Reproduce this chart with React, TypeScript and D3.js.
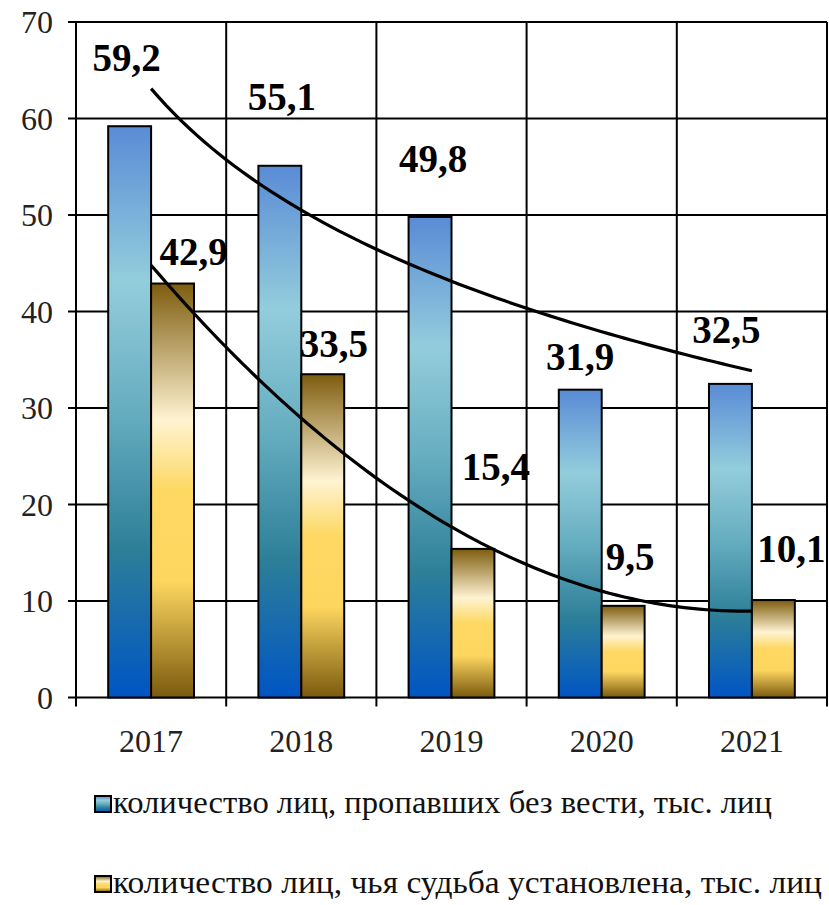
import React, { useEffect } from "react";
import * as d3 from "d3";

const W = 829;
const H = 905;

// data
const years = ["2017", "2018", "2019", "2020", "2021"];
const missing = [59.2, 55.1, 49.8, 31.9, 32.5];
const found = [42.9, 33.5, 15.4, 9.5, 10.1];
const yTicks = [0, 10, 20, 30, 40, 50, 60, 70];
const legendLabels = [
  "количество лиц, пропавших без вести, тыс. лиц",
  "количество лиц, чья судьба установлена, тыс. лиц",
];

// manual label nudges (relative to bar top centre), like in the original
const missingLabelNudge = [[-3, -55], [2, -56], [3, -45], [0, -20], [-4, -41]];
const foundLabelNudge = [[21, -19], [11, -17], [23, -69], [7, -36], [18, -38]];
const legendWidths = [659, 709];

const fmt = (v: number) => v.toFixed(1).replace(".", ",");

// log trendline y = a + b ln(x), x = 1..n (as Excel does)
function logFit(ys: number[]) {
  const xs = ys.map((_, i) => Math.log(i + 1));
  const mx = d3.mean(xs)!;
  const my = d3.mean(ys)!;
  let sxy = 0, sxx = 0;
  xs.forEach((x, i) => { sxy += (x - mx) * (ys[i] - my); sxx += (x - mx) ** 2; });
  const b = sxy / sxx;
  const a = my - b * mx;
  return (t: number) => a + b * Math.log(t);
}

// 2nd order polynomial trendline (orthogonal polynomials, equally spaced x)
function polyFit(ys: number[]) {
  const xs = ys.map((_, i) => i + 1);
  const mx = d3.mean(xs)!;
  const u = xs.map((x) => x - mx);
  const qm = d3.mean(u.map((w) => w * w))!;
  const q = u.map((v) => v * v - qm);
  const my = d3.mean(ys)!;
  const b = d3.sum(u.map((v, i) => v * ys[i])) / d3.sum(u.map((v) => v * v));
  const c = d3.sum(q.map((v, i) => v * ys[i])) / d3.sum(q.map((v) => v * v));
  return (t: number) => my + b * (t - mx) + c * ((t - mx) ** 2 - qm);
}

export default function App() {
  useEffect(() => {
    document.body.style.margin = "0";
    document.body.style.fontFamily = '"Liberation Serif"';
  }, []);

  const left = 76;
  const right = 827;
  const top = 22;
  const bottom = 697.5;

  const x = d3.scaleBand<string>().domain(years).range([left, right]);
  const step = x.bandwidth();
  const barW = step / 3.5;
  const y = d3.scaleLinear().domain([0, 70]).range([bottom, top]);

  const centre = (t: number) => left + (t - 1) * step + step / 2;
  const ts = d3.range(1, 5.0001, 0.05);
  const upper = logFit(missing);
  const lower = polyFit(found);
  const trend = (f: (t: number) => number) =>
    d3.line<number>().x((t) => centre(t)).y((t) => y(f(t)))(ts) || "";

  return (
    <svg width={W} height={H} style={{ position: "absolute", left: 0, top: 0 }}>
      {/* texts first */}
      {yTicks.map((t) => (
        <text key={"yl" + t} x={53} y={y(t) + 11} textAnchor="end" fontSize={32} fill="#222">
          {String(t)}
        </text>
      ))}
      {years.map((yr) => (
        <text key={"xl" + yr} x={x(yr)! + step / 2} y={752} textAnchor="middle" fontSize={32} fill="#222">
          {yr}
        </text>
      ))}
      {legendLabels.map((lab, i) => (
        <text key={"lt" + i} x={113} y={813 + i * 80} fontSize={32} fill="#111"
          textLength={legendWidths[i]} lengthAdjust="spacingAndGlyphs">
          {lab}
        </text>
      ))}

      <defs>
        <linearGradient id="gBlue" x1="0" y1="0" x2="0" y2="1">
          <stop offset="0" stopColor="#5a8bd6" />
          <stop offset="0.27" stopColor="#93cddc" />
          <stop offset="0.5" stopColor="#66adc0" />
          <stop offset="0.74" stopColor="#2d7f98" />
          <stop offset="1" stopColor="#0055c4" />
        </linearGradient>
        <linearGradient id="gGold" x1="0" y1="0" x2="0" y2="1">
          <stop offset="0" stopColor="#7d5c0e" />
          <stop offset="0.33" stopColor="#fff3d2" />
          <stop offset="0.5" stopColor="#fdd862" />
          <stop offset="0.72" stopColor="#fdd660" />
          <stop offset="1" stopColor="#7a5a0e" />
        </linearGradient>
      </defs>

      {/* horizontal grid */}
      {yTicks.map((t) => (
        <line key={"h" + t} x1={left - 8} x2={right} y1={y(t)} y2={y(t)} stroke="#000" strokeWidth={2} />
      ))}
      {/* vertical grid */}
      {years.map((yr) => (
        <line key={"v" + yr} x1={x(yr)!} x2={x(yr)!} y1={top} y2={bottom + 9} stroke="#000" strokeWidth={2} />
      ))}
      <line x1={right} x2={right} y1={top} y2={bottom + 9} stroke="#000" strokeWidth={2} />

      {/* bars */}
      {years.map((yr, i) => {
        const cx = x(yr)! + step / 2;
        return (
          <g key={"b" + yr}>
            <rect x={cx - barW} y={y(missing[i])} width={barW} height={bottom - y(missing[i])}
              fill="url(#gBlue)" stroke="#000" strokeWidth={2} />
            <rect x={cx} y={y(found[i])} width={barW} height={bottom - y(found[i])}
              fill="url(#gGold)" stroke="#000" strokeWidth={2} />
          </g>
        );
      })}

      {/* trendlines */}
      <path d={trend(upper)} fill="none" stroke="#000" strokeWidth={3.2} />
      <path d={trend(lower)} fill="none" stroke="#000" strokeWidth={3.2} />

      {/* value labels */}
      {years.map((yr, i) => {
        const cx = x(yr)! + step / 2;
        return (
          <g key={"l" + yr}>
            <text x={cx - barW / 2 + missingLabelNudge[i][0]} y={y(missing[i]) + missingLabelNudge[i][1]}
              fontSize={39} fontWeight="bold" textAnchor="middle">
              {fmt(missing[i])}
            </text>
            <text x={cx + barW / 2 + foundLabelNudge[i][0]} y={y(found[i]) + foundLabelNudge[i][1]}
              fontSize={39} fontWeight="bold" textAnchor="middle">
              {fmt(found[i])}
            </text>
          </g>
        );
      })}

      {/* legend keys */}
      {legendLabels.map((_, i) => (
        <rect key={"lk" + i} x={95} y={796 + i * 80} width={16} height={16}
          fill={i === 0 ? "url(#gBlue)" : "url(#gGold)"} stroke="#000" strokeWidth={2} />
      ))}
    </svg>
  );
}
